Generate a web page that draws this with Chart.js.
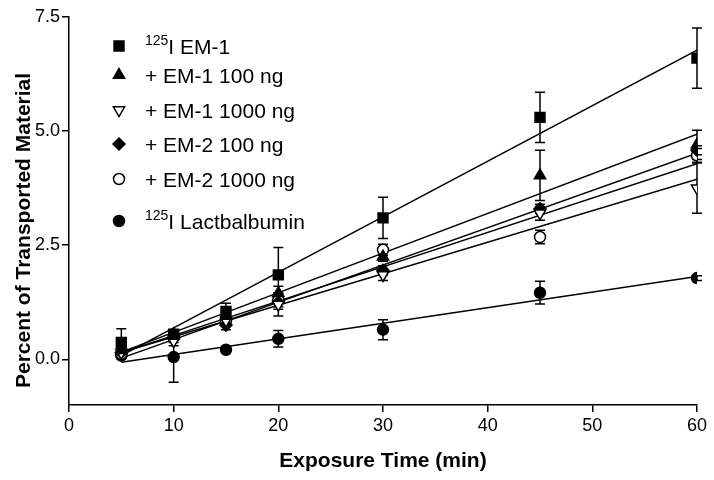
<!DOCTYPE html>
<html lang="en">
<head>
<meta charset="UTF-8">
<title>Percent of Transported Material vs Exposure Time</title>
<script src="https://cdn.jsdelivr.net/npm/chart.js"></script>
<style>
  html, body { margin: 0; padding: 0; background: #fff; }
</style>
</head>
<body>
<canvas id="chart" width="714" height="480"></canvas>
<script>
  // Exposure time (min)
  const times = [5, 10, 15, 20, 30, 45, 60];

  // Series labels (legend order)
  const seriesLabels = ['¹²⁵I EM-1', '+ EM-1 100 ng', '+ EM-1 1000 ng', '+ EM-2 100 ng', '+ EM-2 1000 ng', '¹²⁵I Lactbalbumin'];

  // Mean values (% transported)
  const em1      = [0.37, 0.55, 1.05, 1.85, 3.10, 5.30, 6.60];
  const em1_100  = [0.20, 0.55, 0.95, 1.45, 2.25, 4.03, 4.70];
  const em1_1000 = [0.15, 0.40, 0.85, 1.20, 1.85, 3.20, 3.75];
  const em2_100  = [0.15, 0.45, 0.75, 1.25, 1.95, 3.30, 4.58];
  const em2_1000 = [0.12, 0.50, 0.85, 1.30, 2.40, 2.68, 4.47];
  const lact     = [0.08, 0.05, 0.21, 0.45, 0.65, 1.46, 1.78];

  // Error bars (+/-)
  const em1Err      = [0.30, 0.08, 0.18, 0.60, 0.45, 0.55, 0.66];
  const em1_100Err  = [0.05, 0.08, 0.10, 0.15, 0.10, 0.55, 0.32];
  const em1_1000Err = [0.05, 0.10, 0.10, 0.25, 0.12, 0.15, 0.55];
  const em2_100Err  = [0.05, 0.08, 0.10, 0.15, 0.10, 0.10, 0.10];
  const em2_1000Err = [0.05, 0.08, 0.10, 0.15, 0.12, 0.15, 0.15];
  const lactErr     = [0.05, 0.55, 0.05, 0.18, 0.22, 0.25, 0.05];

  const yTicks = [0, 2.5, 5, 7.5];
  const yTitle = 'Percent of Transported Material';

  const series = [
    { values: em1,      errors: em1Err,      style: 'rect',     radius: 7,   fill: '#000', rot: 0 },
    { values: em1_100,  errors: em1_100Err,  style: 'triangle', radius: 6.5, fill: '#000', rot: 0 },
    { values: em1_1000, errors: em1_1000Err, style: 'triangle', radius: 6.5, fill: '#fff', rot: 180 },
    { values: em2_100,  errors: em2_100Err,  style: 'rectRot',  radius: 6,   fill: '#000', rot: 0 },
    { values: em2_1000, errors: em2_1000Err, style: 'circle',   radius: 5.5, fill: '#fff', rot: 0 },
    { values: lact,     errors: lactErr,     style: 'circle',   radius: 5.5, fill: '#000', rot: 0 }
  ];

  const FONT = '"Liberation Sans", Arial, sans-serif';

  // least squares line through the points
  function linFit(xs, ys) {
    const n = xs.length;
    const mx = xs.reduce((a, b) => a + b, 0) / n;
    const my = ys.reduce((a, b) => a + b, 0) / n;
    let sxy = 0, sxx = 0;
    for (let i = 0; i < n; i++) {
      sxy += (xs[i] - mx) * (ys[i] - my);
      sxx += (xs[i] - mx) * (xs[i] - mx);
    }
    const m = sxy / sxx;
    return { m: m, b: my - m * mx };
  }

  const datasets = [];
  series.forEach((s, i) => {
    datasets.push({
      type: 'scatter',
      label: seriesLabels[i],
      data: times.map((t, j) => ({ x: t, y: s.values[j] })),
      errors: s.errors,
      pointStyle: s.style,
      pointRadius: s.radius,
      pointRotation: s.rot,
      pointBackgroundColor: s.fill,
      pointBorderColor: '#000',
      pointBorderWidth: 1.5,
      showLine: false,
      order: 0
    });
  });
  series.forEach((s, i) => {
    const f = linFit(times, s.values);
    const x0 = times[0], x1 = times[times.length - 1];
    datasets.push({
      type: 'line',
      label: 'fit ' + seriesLabels[i],
      data: [{ x: x0, y: f.m * x0 + f.b }, { x: x1, y: f.m * x1 + f.b }],
      borderColor: '#000',
      borderWidth: 1.5,
      pointRadius: 0,
      fill: false,
      isFit: true,
      order: 1
    });
  });

  const errorBars = {
    id: 'errorBars',
    beforeDatasetsDraw(chart) {
      const ctx = chart.ctx;
      const ys = chart.scales.y;
      ctx.save();
      ctx.strokeStyle = '#000';
      ctx.lineWidth = 1.5;
      chart.data.datasets.forEach((ds, di) => {
        if (!ds.errors) return;
        const meta = chart.getDatasetMeta(di);
        meta.data.forEach((pt, j) => {
          const v = ds.data[j].y, e = ds.errors[j];
          const top = ys.getPixelForValue(v + e);
          const bot = ys.getPixelForValue(v - e);
          const x = pt.x;
          ctx.beginPath();
          ctx.moveTo(x, top); ctx.lineTo(x, bot);
          ctx.moveTo(x - 5, top); ctx.lineTo(x + 5, top);
          ctx.moveTo(x - 5, bot); ctx.lineTo(x + 5, bot);
          ctx.stroke();
        });
      });
      ctx.restore();
    }
  };

  // y axis title, drawn a little below the axis centre as in the original
  const yTitlePlugin = {
    id: 'yTitlePlugin',
    afterDraw(chart) {
      const ctx = chart.ctx;
      ctx.save();
      ctx.translate(24, 388);
      ctx.rotate(-Math.PI / 2);
      ctx.font = 'bold 21px ' + FONT;
      ctx.fillStyle = '#000';
      ctx.textAlign = 'left';
      ctx.textBaseline = 'middle';
      ctx.fillText(yTitle, 0, 0);
      ctx.restore();
    }
  };

  // legend inside the plot, with superscript digits drawn small and raised
  const supMap = { '⁰': '0', '¹': '1', '²': '2', '³': '3', '⁴': '4', '⁵': '5', '⁶': '6', '⁷': '7', '⁸': '8', '⁹': '9' };
  const insideLegend = {
    id: 'insideLegend',
    afterDraw(chart) {
      const ctx = chart.ctx;
      const rows = [46, 75, 110, 144, 179, 221];
      const markerX = 119, textX = 145;
      ctx.save();
      chart.data.datasets.forEach((ds, i) => {
        if (ds.isFit) return;
        const cy = rows[i];
        ctx.fillStyle = ds.pointBackgroundColor;
        ctx.strokeStyle = '#000';
        ctx.lineWidth = 1.5;
        Chart.helpers.drawPoint(ctx, {
          pointStyle: ds.pointStyle, radius: ds.pointRadius,
          rotation: ds.pointRotation, borderWidth: 1.5
        }, markerX, cy);
        ctx.fillStyle = '#000';
        ctx.textBaseline = 'alphabetic';
        let x = textX;
        let run = '', sup = false;
        const flush = () => {
          if (!run) return;
          ctx.font = sup ? '14px ' + FONT : '21px ' + FONT;
          ctx.fillText(run, x, sup ? cy - 1 : cy + 7.5);
          x += ctx.measureText(run).width;
          run = '';
        };
        for (const ch of ds.label) {
          const isSup = ch in supMap;
          if (isSup !== sup) { flush(); sup = isSup; }
          run += isSup ? supMap[ch] : ch;
        }
        flush();
      });
      ctx.restore();
    }
  };

  new Chart(document.getElementById('chart'), {
    data: { datasets: datasets },
    options: {
      responsive: false,
      animation: false,
      events: [],
      layout: { padding: { top: 17, right: 17, left: 0, bottom: 0 } },
      plugins: { legend: { display: false }, tooltip: { enabled: false } },
      scales: {
        x: {
          type: 'linear',
          min: 0, max: 60,
          afterFit: s => { s.height = 75; },
          ticks: { stepSize: 10, color: '#000', padding: 3, font: { family: FONT, size: 18 } },
          grid: { display: true, drawOnChartArea: false, drawTicks: true, tickLength: 7, color: '#000', lineWidth: 1.5 },
          border: { display: true, color: '#000', width: 1.5 },
          title: { display: true, text: 'Exposure Time (min)', color: '#000', padding: { top: 0, bottom: 6 },
                   font: { family: FONT, size: 21, weight: 'bold' } }
        },
        y: {
          type: 'linear',
          min: -1, max: 7.5,
          afterFit: s => { s.width = 69; },
          afterBuildTicks: s => { s.ticks = yTicks.map(v => ({ value: v })); },
          ticks: { color: '#000', padding: 2, callback: v => v.toFixed(1), font: { family: FONT, size: 18 } },
          grid: { display: true, drawOnChartArea: false, drawTicks: true, tickLength: 7, color: '#000', lineWidth: 1.5 },
          border: { display: true, color: '#000', width: 1.5 },
          title: { display: false }
        }
      }
    },
    plugins: [errorBars, insideLegend, yTitlePlugin]
  });
</script>
</body>
</html>
